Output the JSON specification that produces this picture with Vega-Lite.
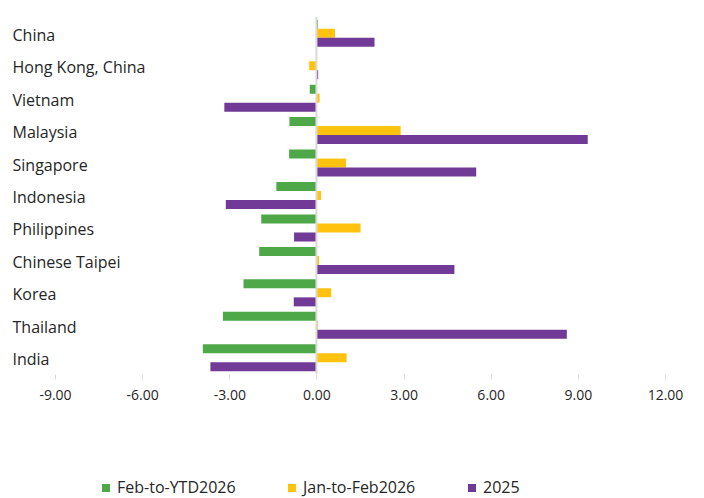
{
  "$schema": "https://vega.github.io/schema/vega-lite/v6.json",
  "autosize": {"type": "none"},
  "width": 610,
  "height": 357,
  "padding": {"left": 55, "top": 17, "right": 39, "bottom": 124},
  "background": "white",
  "config": {
    "view": {"stroke": null},
    "font": "Open Sans"
  },
  "layer": [
    {
      "data": {
        "values": [
          {"country": "China", "series": "Feb-to-YTD2026", "value": 0.05},
          {"country": "China", "series": "Jan-to-Feb2026", "value": 0.64},
          {"country": "China", "series": "2025", "value": 2.0},
          {"country": "Hong Kong, China", "series": "Feb-to-YTD2026", "value": 0.0},
          {"country": "Hong Kong, China", "series": "Jan-to-Feb2026", "value": -0.25},
          {"country": "Hong Kong, China", "series": "2025", "value": 0.06},
          {"country": "Vietnam", "series": "Feb-to-YTD2026", "value": -0.23},
          {"country": "Vietnam", "series": "Jan-to-Feb2026", "value": 0.11},
          {"country": "Vietnam", "series": "2025", "value": -3.17},
          {"country": "Malaysia", "series": "Feb-to-YTD2026", "value": -0.93},
          {"country": "Malaysia", "series": "Jan-to-Feb2026", "value": 2.9},
          {"country": "Malaysia", "series": "2025", "value": 9.34},
          {"country": "Singapore", "series": "Feb-to-YTD2026", "value": -0.94},
          {"country": "Singapore", "series": "Jan-to-Feb2026", "value": 1.02},
          {"country": "Singapore", "series": "2025", "value": 5.5},
          {"country": "Indonesia", "series": "Feb-to-YTD2026", "value": -1.38},
          {"country": "Indonesia", "series": "Jan-to-Feb2026", "value": 0.16},
          {"country": "Indonesia", "series": "2025", "value": -3.12},
          {"country": "Philippines", "series": "Feb-to-YTD2026", "value": -1.9},
          {"country": "Philippines", "series": "Jan-to-Feb2026", "value": 1.52},
          {"country": "Philippines", "series": "2025", "value": -0.77},
          {"country": "Chinese Taipei", "series": "Feb-to-YTD2026", "value": -1.97},
          {"country": "Chinese Taipei", "series": "Jan-to-Feb2026", "value": 0.09},
          {"country": "Chinese Taipei", "series": "2025", "value": 4.75},
          {"country": "Korea", "series": "Feb-to-YTD2026", "value": -2.51},
          {"country": "Korea", "series": "Jan-to-Feb2026", "value": 0.51},
          {"country": "Korea", "series": "2025", "value": -0.78},
          {"country": "Thailand", "series": "Feb-to-YTD2026", "value": -3.22},
          {"country": "Thailand", "series": "Jan-to-Feb2026", "value": 0.05},
          {"country": "Thailand", "series": "2025", "value": 8.62},
          {"country": "India", "series": "Feb-to-YTD2026", "value": -3.91},
          {"country": "India", "series": "Jan-to-Feb2026", "value": 1.04},
          {"country": "India", "series": "2025", "value": -3.65}
        ]
      },
      "mark": {"type": "bar"},
      "encoding": {
        "y": {
          "field": "country",
          "type": "nominal",
          "sort": null,
          "scale": {"paddingInner": 0.168, "paddingOuter": 0.084},
          "axis": {
            "title": null,
            "orient": "left",
            "domain": false,
            "ticks": false,
            "labelAlign": "left",
            "labelBaseline": "middle",
            "labelPadding": 43,
            "labelOffset": 2.5,
            "labelFont": "Open Sans",
            "labelFontSize": 16,
            "labelColor": "#262626",
            "labelLimit": 300
          }
        },
        "yOffset": {
          "field": "series",
          "type": "nominal",
          "sort": ["Feb-to-YTD2026", "Jan-to-Feb2026", "2025"]
        },
        "x": {
          "field": "value",
          "type": "quantitative",
          "scale": {"domain": [-9, 12], "nice": false, "zero": false},
          "axis": {
            "title": null,
            "values": [-9, -6, -3, 0, 3, 6, 9, 12],
            "labelExpr": "replace(format(datum.value, '.2f'), '\u2212', '-')",
            "labelFlush": false,
            "grid": false,
            "domain": false,
            "tickColor": "#d9d9d9",
            "tickSize": 5,
            "tickWidth": 1,
            "labelPadding": 9,
            "labelFont": "Open Sans",
            "labelFontSize": 14,
            "labelColor": "#262626"
          }
        },
        "color": {
          "field": "series",
          "type": "nominal",
          "sort": ["Feb-to-YTD2026", "Jan-to-Feb2026", "2025"],
          "scale": {
            "domain": ["Feb-to-YTD2026", "Jan-to-Feb2026", "2025"],
            "range": ["#4EA847", "#FFC20E", "#703A96"]
          },
          "legend": {
            "title": null,
            "orient": "none",
            "legendX": 43,
            "legendY": 463,
            "direction": "horizontal",
            "columns": 3,
            "gridAlign": "each",
            "columnPadding": 48,
            "symbolType": "square",
            "symbolSize": 64,
            "symbolStrokeWidth": 0,
            "labelOffset": 3,
            "labelFont": "Open Sans",
            "labelFontSize": 16,
            "labelColor": "#262626"
          }
        }
      }
    },
    {
      "data": {"values": [{"zero": 0}]},
      "mark": {"type": "rule", "color": "#d9d9d9", "strokeWidth": 2},
      "encoding": {
        "x": {"field": "zero", "type": "quantitative"}
      }
    }
  ]
}
